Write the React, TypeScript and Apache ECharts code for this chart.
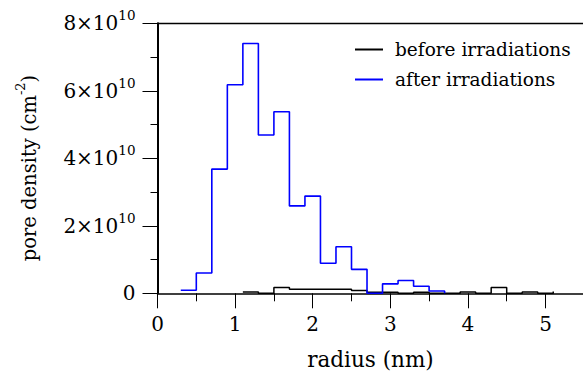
import React, { useEffect, useRef } from "react";
import * as echarts from "echarts";

// Histogram bin left edges (nm) and pore densities (cm^-2)
const afterEdges = [0.3, 0.5, 0.7, 0.9, 1.1, 1.3, 1.5, 1.7, 1.9, 2.1, 2.3, 2.5, 2.7, 2.9, 3.1, 3.3, 3.5, 3.7];
const afterDensity = [0.09e10, 0.6e10, 3.68e10, 6.18e10, 7.4e10, 4.69e10, 5.38e10, 2.59e10, 2.88e10, 0.89e10, 1.38e10, 0.71e10, 0, 0.28e10, 0.38e10, 0.21e10, 0.07e10, 0];

const beforeEdges = [1.1, 1.3, 1.5, 1.7, 1.9, 2.1, 2.3, 2.5, 2.7, 2.9, 3.1, 3.3, 3.5, 3.7, 3.9, 4.1, 4.3, 4.5, 4.7, 4.9, 5.1];
const beforeDensity = [0.04e10, 0, 0.17e10, 0.12e10, 0.12e10, 0.12e10, 0.12e10, 0.08e10, 0.03e10, 0.03e10, 0, 0.03e10, 0, 0, 0.04e10, 0, 0.17e10, 0, 0.04e10, 0, 0.05e10];

const seriesNames = ["before irradiations", "after irradiations"];
const xTicks = [0, 1, 2, 3, 4, 5];
const yTicks = [0, 2e10, 4e10, 6e10, 8e10];

const FONT = "DejaVu Serif";

export default function App() {
  const ref = useRef<HTMLDivElement>(null);
  useEffect(() => {
    if (!ref.current) return;
    const chart = echarts.init(ref.current, undefined, { renderer: "svg" });
    const before = beforeEdges.map((x, i) => [x, beforeDensity[i]]);
    const after = afterEdges.map((x, i) => [x, afterDensity[i]]);
    const axisLine = { color: "#000" };
    chart.setOption({
      animation: false,
      backgroundColor: "#fff",
      grid: { left: 157.5, top: 23.3, width: 465.6, height: 270 },
      legend: {
        orient: "vertical",
        left: 350,
        top: 35,
        itemGap: 11,
        itemWidth: 28,
        itemHeight: 2,
        icon: "rect",
        textStyle: { fontFamily: FONT, fontSize: 18.5, color: "#000", padding: [0, 0, 0, 7] },
        data: seriesNames,
      },
      xAxis: [
        {
          type: "value",
          min: 0,
          max: 6,
          interval: 1,
          axisLine: { show: true, onZero: false, lineStyle: { ...axisLine, width: 1.5 } },
          axisTick: { show: true, length: 15, lineStyle: { color: "#000", width: 1 } },
          minorTick: { show: true, splitNumber: 2, length: 8, lineStyle: { color: "#000", width: 1 } },
          splitLine: { show: false },
          axisLabel: {
            margin: 21,
            fontFamily: FONT,
            fontSize: 20,
            color: "#000",
            showMaxLabel: false,
            formatter: (v: number) => (xTicks.includes(v) ? String(v) : ""),
          },
        },
        {
          type: "value",
          position: "top",
          min: 0,
          max: 6,
          axisLine: { show: true, onZero: false, lineStyle: { ...axisLine, width: 1.3 } },
          axisTick: { show: false },
          axisLabel: { show: false },
          splitLine: { show: false },
        },
      ],
      yAxis: {
        type: "value",
        min: 0,
        max: 8e10,
        interval: 2e10,
        axisLine: { show: true, onZero: false, lineStyle: { ...axisLine, width: 2 } },
        axisTick: { show: true, length: 15, lineStyle: { color: "#000", width: 1 } },
        minorTick: { show: true, splitNumber: 2, length: 7, lineStyle: { color: "#000", width: 1 } },
        splitLine: { show: false },
        axisLabel: {
          margin: 22,
          color: "#000",
          fontFamily: FONT,
          fontSize: 20,
          formatter: (v: number) => {
            if (!yTicks.includes(v)) return "";
            if (v === 0) return "0";
            return `{m|${v / 1e10}×10}{s|10}`;
          },
          rich: {
            m: { fontFamily: FONT, fontSize: 20, color: "#000", lineHeight: 30 },
            s: { fontFamily: FONT, fontSize: 13.5, color: "#000", lineHeight: 18, verticalAlign: "top" },
          },
        },
      },
      graphic: [
        {
          type: "text",
          x: 29,
          y: 168,
          rotation: Math.PI / 2,
          style: {
            text: "{a|pore density (cm}{b|-2}{a|)}",
            align: "center",
            verticalAlign: "middle",
            rich: {
              a: { fontFamily: FONT, fontSize: 19.5, fill: "#000", lineHeight: 30 },
              b: { fontFamily: FONT, fontSize: 13, fill: "#000", lineHeight: 18, verticalAlign: "top" },
            },
          },
        },
        {
          type: "text",
          x: 370.5,
          y: 359,
          style: {
            text: "radius (nm)",
            align: "center",
            verticalAlign: "middle",
            fontFamily: FONT,
            fontSize: 21.5,
            fill: "#000",
          },
        },
      ],
      series: [
        {
          name: seriesNames[0],
          type: "line",
          step: "end",
          data: before,
          showSymbol: false,
          symbol: "none",
          color: "#000",
          lineStyle: { color: "#000", width: 1.5 },
        },
        {
          name: seriesNames[1],
          type: "line",
          step: "end",
          data: after,
          showSymbol: false,
          symbol: "none",
          color: "#0000ff",
          lineStyle: { color: "#0000ff", width: 1.6 },
        },
      ],
    });
    return () => chart.dispose();
  }, []);
  return (
    <div style={{ position: "absolute", left: 0, top: 0, width: 583, height: 379, overflow: "hidden", background: "#fff" }}>
      <div ref={ref} style={{ width: 640, height: 379 }} />
    </div>
  );
}
